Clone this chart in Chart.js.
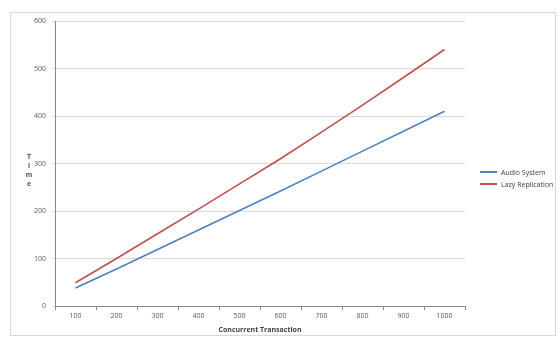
<!DOCTYPE html>
<html>
<head>
<meta charset="utf-8">
<script src="https://cdn.jsdelivr.net/npm/chart.js@4.4.0/dist/chart.umd.min.js"></script>
<style>
  html, body { margin: 0; padding: 0; background: #fff; }
  #wrap { position: relative; width: 560px; height: 338px; }
  #frame { position: absolute; left: 10px; top: 12px; width: 546px; height: 324px; border: 1px solid #d9d9d9; box-sizing: border-box; }
  #ytitle { position: absolute; left: 24px; top: 152px; width: 10px; text-align: center;
            font: bold 7px "Open Sans", sans-serif; color: #595959; line-height: 9px; }
  #legend { position: absolute; left: 480px; top: 166px; font: 7px "Open Sans", sans-serif; color: #404040; }
  .li { display: flex; align-items: center; height: 12px; }
  .sw { width: 17px; height: 2px; margin-right: 4px; }
</style>
</head>
<body>
<div id="wrap">
  <div id="frame"></div>
  <canvas id="c" width="560" height="338"></canvas>
  <div id="ytitle">T<br>i<br>m<br>e</div>
  <div id="legend"></div>
</div>
<script>
const categories = ['100', '200', '300', '400', '500', '600', '700', '800', '900', '1000'];
const audioSystem = [38, 78, 119, 160, 201, 242, 284, 326, 368, 410];
const lazyReplication = [49, 100, 152, 204, 257, 310, 366, 423, 481, 540];
const seriesNames = ['Audio System', 'Lazy Replication'];
const seriesColors = ['#4F81BD', '#C0504D'];

const FONT = { family: '"Open Sans", sans-serif', size: 7 };

new Chart(document.getElementById('c'), {
  type: 'line',
  data: {
    labels: categories,
    datasets: [
      { label: seriesNames[0], data: audioSystem, borderColor: seriesColors[0], borderWidth: 1.6, pointRadius: 0, tension: 0 },
      { label: seriesNames[1], data: lazyReplication, borderColor: seriesColors[1], borderWidth: 1.6, pointRadius: 0, tension: 0 }
    ]
  },
  options: {
    responsive: false,
    animation: false,
    layout: { padding: { left: 10, right: 95, top: 21, bottom: 4 } },
    plugins: { legend: { display: false }, tooltip: { enabled: false } },
    scales: {
      x: {
        offset: true,
        grid: { display: true, drawOnChartArea: false, offset: true, color: '#868686', tickLength: 4 },
        border: { color: '#868686' },
        ticks: { color: '#595959', font: FONT, padding: 2, maxRotation: 0 },
        title: { display: true, text: 'Concurrent Transaction', color: '#404040', font: { ...FONT, weight: 'bold' }, padding: { top: 0, bottom: 0 } },
        afterFit(s) { s.height = 28; }
      },
      y: {
        min: 0, max: 600,
        ticks: { stepSize: 100, color: '#595959', font: FONT, padding: 6 },
        grid: { color: '#d9d9d9', tickLength: 3 },
        border: { color: '#868686' },
        afterFit(s) { s.width = 45; }
      }
    }
  }
});

const legend = document.getElementById('legend');
seriesNames.forEach((n, i) => {
  legend.innerHTML += `<div class="li"><div class="sw" style="background:${seriesColors[i]}"></div>${n}</div>`;
});
</script>
</body>
</html>
